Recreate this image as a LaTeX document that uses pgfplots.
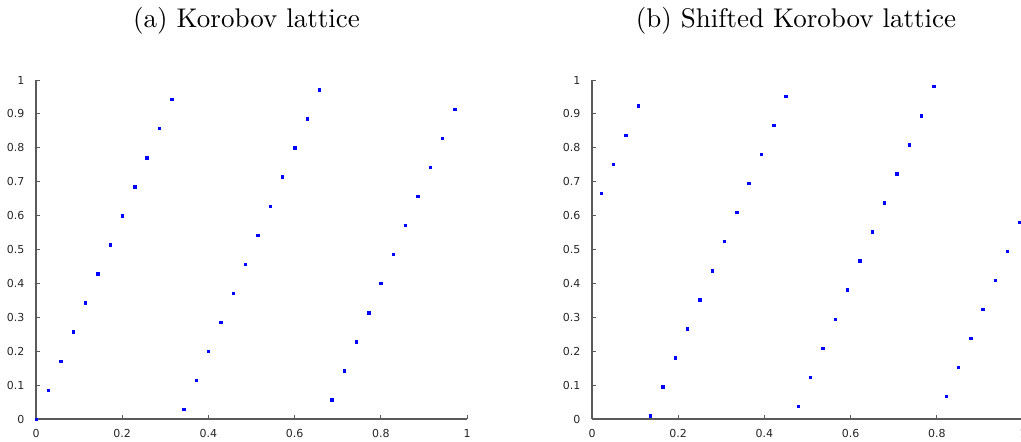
\documentclass[border=0pt]{standalone}
\usepackage{fontspec}
\usepackage{pgfplots}
\pgfplotsset{compat=1.18}
\newfontfamily\tickfont{DejaVu Sans}
\definecolor{axisgray}{HTML}{5A5A5A}
\pgfplotsset{
  latstyle/.style={
    scale only axis,
    width=431pt, height=339pt,
    xmin=0, xmax=1, ymin=0, ymax=1,
    axis lines=left,
    axis line style={-, axisgray, line width=1.1pt},
    every tick/.style={axisgray, line width=0.9pt},
    tick align=inside,
    major tick length=4pt,
    xtick={0,0.2,0.4,0.6,0.8,1},
    ytick={0,0.1,0.2,0.3,0.4,0.5,0.6,0.7,0.8,0.9,1},
    xticklabels={0,0.2,0.4,0.6,0.8,1},
    yticklabels={0,0.1,0.2,0.3,0.4,0.5,0.6,0.7,0.8,0.9,1},
    ticklabel style={font=\tickfont\fontsize{11}{13}\selectfont, text=black!85},
    yticklabel style={xshift=-8pt},
    xticklabel style={yshift=-6.5pt},
    clip=false,
  }
}
\begin{document}
\begin{tikzpicture}
\useasboundingbox (0,0) rectangle (1021pt,442pt);
\begin{axis}[latstyle, at={(36pt,23pt)}, anchor=south west]
\addplot[only marks, mark=square*, mark size=1.2pt, blue, mark options={draw=blue, fill=blue, line width=0.3pt}] coordinates {
(0,0)(0.0286,0.0857)(0.0571,0.1714)(0.0857,0.2571)(0.1143,0.3429)(0.1429,0.4286)(0.1714,0.5143)(0.2,0.6)(0.2286,0.6857)(0.2571,0.7714)(0.2857,0.8571)(0.3143,0.9429)(0.3429,0.0286)(0.3714,0.1143)(0.4,0.2)(0.4286,0.2857)(0.4571,0.3714)(0.4857,0.4571)(0.5143,0.5429)(0.5429,0.6286)(0.5714,0.7143)(0.6,0.8)(0.6286,0.8857)(0.6571,0.9714)(0.6857,0.0571)(0.7143,0.1429)(0.7429,0.2286)(0.7714,0.3143)(0.8,0.4)(0.8286,0.4857)(0.8571,0.5714)(0.8857,0.6571)(0.9143,0.7429)(0.9429,0.8286)(0.9714,0.9143)
};
\end{axis}
\begin{axis}[latstyle, at={(592pt,23pt)}, anchor=south west]
\addplot[only marks, mark=square*, mark size=1.2pt, blue, mark options={draw=blue, fill=blue, line width=0.3pt}] coordinates {
(0.021,0.6667)(0.0496,0.7524)(0.0781,0.8381)(0.1067,0.9238)(0.1353,0.0095)(0.1639,0.0952)(0.1924,0.1810)(0.221,0.2667)(0.2496,0.3524)(0.2781,0.4381)(0.3067,0.5238)(0.3353,0.6095)(0.3639,0.6952)(0.3924,0.7810)(0.421,0.8667)(0.4496,0.9524)(0.4781,0.0381)(0.5067,0.1238)(0.5353,0.2095)(0.5639,0.2952)(0.5924,0.3810)(0.621,0.4667)(0.6496,0.5524)(0.6781,0.6381)(0.7067,0.7238)(0.7353,0.8095)(0.7639,0.8952)(0.7924,0.9810)(0.821,0.0667)(0.8496,0.1524)(0.8781,0.2381)(0.9067,0.3238)(0.9353,0.4095)(0.9639,0.4952)(0.9924,0.5810)
};
\end{axis}
\node[scale=2.7, inner sep=0pt] at (246.5pt,421pt) {(a) Korobov lattice};
\node[scale=2.7, inner sep=0pt] at (796pt,421pt) {(b) Shifted Korobov lattice};
\end{tikzpicture}
\end{document}
